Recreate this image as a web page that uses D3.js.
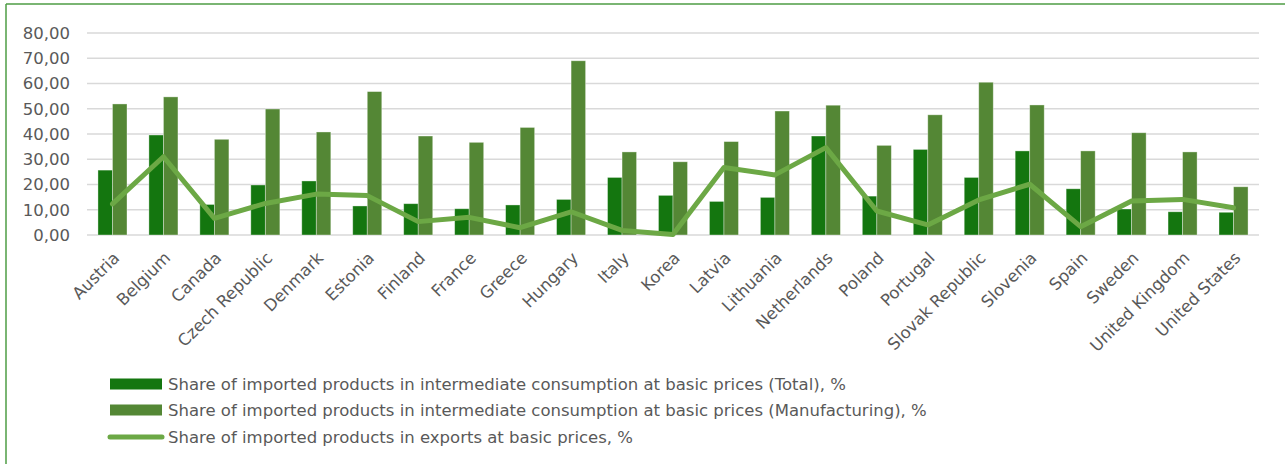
<!DOCTYPE html>
<html>
<head>
<meta charset="utf-8">
<script src="https://cdn.jsdelivr.net/npm/d3@7"></script>
<style>
  html, body { margin: 0; padding: 0; background: #fff; }
  svg { display: block; font-family: "DejaVu Sans", Verdana, sans-serif; }
</style>
</head>
<body>
<svg id="chart" width="1285" height="464"></svg>
<script>
const categories = ["Austria","Belgium","Canada","Czech Republic","Denmark","Estonia","Finland","France","Greece","Hungary","Italy","Korea","Latvia","Lithuania","Netherlands","Poland","Portugal","Slovak Republic","Slovenia","Spain","Sweden","United Kingdom","United States"];
const totalShare = [25.7,39.6,12.1,19.8,21.4,11.5,12.4,10.4,11.9,14.1,22.8,15.7,13.3,14.9,39.2,15.4,33.9,22.8,33.3,18.3,10.3,9.2,9.0];
const manufShare = [51.9,54.7,37.9,49.9,40.8,56.8,39.2,36.7,42.6,69.0,32.9,29.0,37.0,49.1,51.4,35.5,47.6,60.5,51.5,33.3,40.5,32.9,19.1];
const exportShare = [12.3,31.0,6.6,12.5,16.2,15.6,5.3,7.0,2.9,9.2,1.8,0.2,26.7,23.8,34.6,9.5,4.0,13.9,20.1,3.3,13.5,14.1,10.8];
const yTicks = [0,10,20,30,40,50,60,70,80];
const seriesNames = [
  "Share of imported products in intermediate consumption at basic prices (Total), %",
  "Share of imported products in intermediate consumption at basic prices (Manufacturing), %",
  "Share of imported products in exports at basic prices, %"
];

const colTotal = "#14760f";
const colManuf = "#548735";
const colLine = "#6ca845";
const textCol = "#595959";
const fontSize = "16.5px";

const svg = d3.select("#chart");

// outer border (top and left visible)
svg.append("line").attr("x1",6).attr("x2",1285).attr("y1",4).attr("y2",4).attr("stroke","#4e9c45").attr("stroke-width",1.5);
svg.append("line").attr("x1",6).attr("x2",6).attr("y1",4).attr("y2",464).attr("stroke","#4e9c45").attr("stroke-width",1.5);

const x0 = d3.scaleBand().domain(categories).range([87,1259]).padding(0);
const x1 = d3.scaleBand().domain([0,1]).range([x0.bandwidth()*0.215, x0.bandwidth()*0.785]).padding(0);
const y = d3.scaleLinear().domain([0,80]).range([235,33]);

// gridlines
svg.append("g").selectAll("line").data(yTicks).join("line")
  .attr("x1",87).attr("x2",1259)
  .attr("y1",d=>y(d)).attr("y2",d=>y(d))
  .attr("stroke","#d9d9d9").attr("stroke-width",1.3);

// y axis labels
const yAxis = d3.axisLeft(y).tickValues(yTicks).tickSize(0).tickPadding(0)
  .tickFormat(d => d3.format(".2f")(d).replace(".", ","));
const gy = svg.append("g").attr("transform","translate(70,0)").call(yAxis);
gy.select(".domain").remove();
gy.selectAll("text").attr("fill",textCol).style("font-size",fontSize).style("font-family","DejaVu Sans, Verdana, sans-serif");

// bars
const groups = svg.append("g").selectAll("g").data(categories).join("g")
  .attr("transform", d => `translate(${x0(d)},0)`);
groups.append("rect")
  .attr("x", x1(0)).attr("width", x1.bandwidth())
  .attr("y", (d,i)=>y(totalShare[i])).attr("height",(d,i)=>y(0)-y(totalShare[i]))
  .attr("fill",colTotal).attr("stroke","rgba(255,255,255,0.45)").attr("stroke-width",0.8);
groups.append("rect")
  .attr("x", x1(1)).attr("width", x1.bandwidth())
  .attr("y", (d,i)=>y(manufShare[i])).attr("height",(d,i)=>y(0)-y(manufShare[i]))
  .attr("fill",colManuf).attr("stroke","rgba(255,255,255,0.45)").attr("stroke-width",0.8);

// line
const line = d3.line().x((d,i)=>x0(categories[i]) + x0.bandwidth()/2).y(d=>y(d));
svg.append("path").datum(exportShare).attr("d",line)
  .attr("fill","none").attr("stroke",colLine).attr("stroke-width",5)
  .attr("stroke-linejoin","round").attr("stroke-linecap","round");

// category labels
const xAxis = d3.axisBottom(x0).tickSize(0).tickPadding(0);
const gx = svg.append("g").attr("transform","translate(0,235)").call(xAxis);
gx.select(".domain").remove();
gx.selectAll("text")
  .attr("fill",textCol).style("font-size",fontSize).style("font-family","DejaVu Sans, Verdana, sans-serif")
  .attr("text-anchor","end").attr("dy",null).attr("y",null)
  .attr("transform","translate(8,24) rotate(-45)");

// legend
const legendY = [384,410,437];
const lg = svg.append("g");
[0,1].forEach(i=>{
  lg.append("rect").attr("x",110).attr("y",legendY[i]-5.5).attr("width",52).attr("height",11)
    .attr("fill", i===0?colTotal:colManuf);
});
lg.append("line").attr("x1",110).attr("x2",162).attr("y1",legendY[2]).attr("y2",legendY[2])
  .attr("stroke",colLine).attr("stroke-width",5).attr("stroke-linecap","round");
seriesNames.forEach((s,i)=>{
  lg.append("text").attr("x",168).attr("y",legendY[i]).attr("dy","0.36em")
    .attr("fill",textCol).style("font-size",fontSize).text(s);
});
</script>
</body>
</html>
